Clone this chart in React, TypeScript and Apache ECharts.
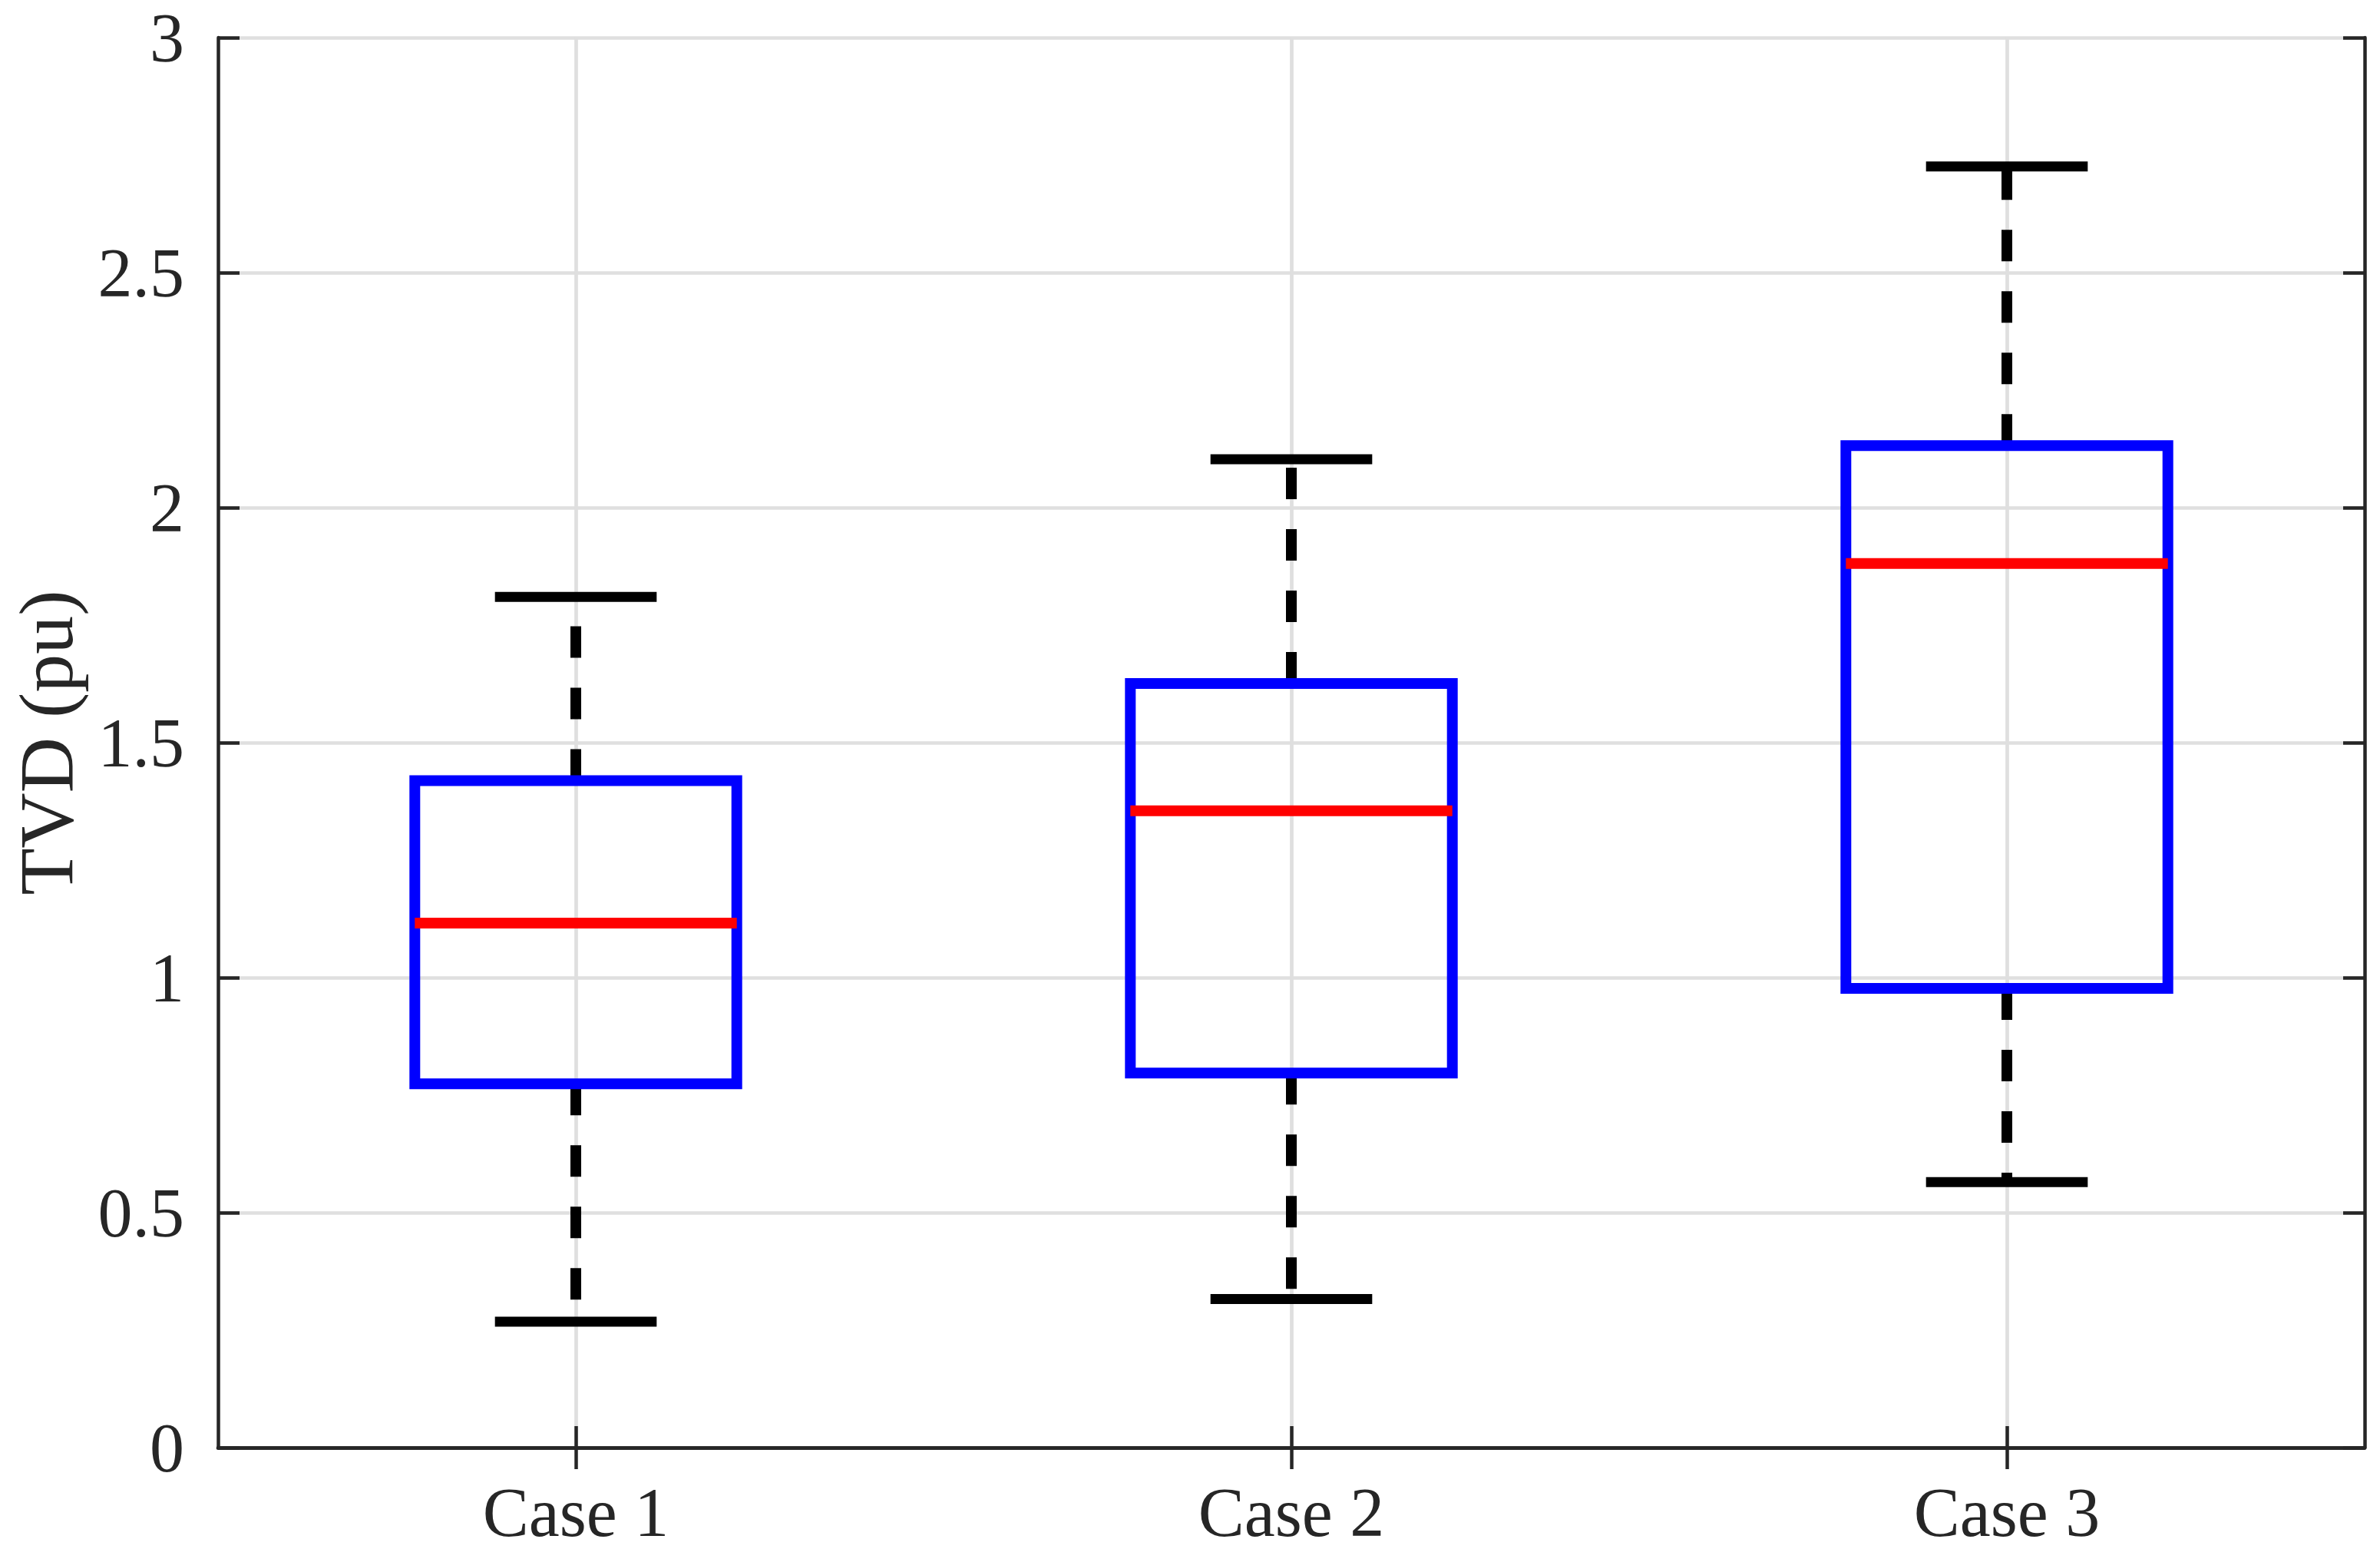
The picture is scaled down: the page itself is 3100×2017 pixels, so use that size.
import React, { useEffect, useRef } from 'react';
import * as echarts from 'echarts';

const categories = ['Case 1', 'Case 2', 'Case 3'];
const whiskerLow = [0.268, 0.316, 0.565];
const quartile1 = [0.774, 0.797, 0.977];
const medians = [1.116, 1.355, 1.881];
const quartile3 = [1.419, 1.626, 2.132];
const whiskerHigh = [1.81, 2.103, 2.726];
const yAxisTitle = 'TVD (pu)';

const FONT = '"Liberation Serif", "Times New Roman", serif';
const AX = '#262626';
const GRID = '#dfdfdf';

export default function App() {
  const ref = useRef<HTMLDivElement>(null);
  useEffect(() => {
    document.body.style.margin = '0';
    if (!ref.current) return;
    const chart = echarts.init(ref.current, null, { renderer: 'svg' });
    const data = categories.map((_, i) => [
      i,
      whiskerLow[i],
      quartile1[i],
      medians[i],
      quartile3[i],
      whiskerHigh[i],
    ]);
    const axisLine = { show: true, lineStyle: { color: AX, width: 4.5 } };
    const tick = { show: true, inside: true, length: 28, lineStyle: { color: AX, width: 4.5 } };
    chart.setOption({
      animation: false,
      backgroundColor: '#ffffff',
      grid: { left: 284, right: 20, top: 49, bottom: 132, containLabel: false },
      xAxis: [
        {
          type: 'category',
          data: categories,
          position: 'bottom',
          boundaryGap: true,
          z: 5,
          axisLine,
          axisTick: { ...tick, alignWithLabel: true },
          axisLabel: { color: AX, fontFamily: FONT, fontSize: 90, lineHeight: 80, margin: 44 },
          splitLine: { show: false },
        },
        {
          type: 'category',
          data: categories,
          position: 'top',
          boundaryGap: true,
          z: 5,
          axisLine,
          axisTick: { ...tick, alignWithLabel: true },
          axisLabel: { show: false },
          splitLine: { show: false },
        },
        {
          type: 'category',
          data: categories,
          position: 'bottom',
          boundaryGap: true,
          z: 0,
          axisLine: { show: false },
          axisTick: { show: false, alignWithLabel: true },
          axisLabel: { show: false },
          splitLine: { show: true, alignWithLabel: true, lineStyle: { color: GRID, width: 4.7 } },
        },
      ],
      yAxis: [
        {
          type: 'value',
          min: 0,
          max: 3,
          interval: 0.5,
          position: 'left',
          z: 5,
          name: yAxisTitle,
          nameLocation: 'middle',
          nameRotate: 90,
          nameGap: 174,
          nameTextStyle: { color: AX, fontFamily: FONT, fontSize: 100 },
          axisLine,
          axisTick: tick,
          axisLabel: { color: AX, fontFamily: FONT, fontSize: 90, lineHeight: 76, margin: 44 },
          splitLine: { show: false },
        },
        {
          type: 'value',
          min: 0,
          max: 3,
          interval: 0.5,
          position: 'right',
          z: 5,
          axisLine,
          axisTick: tick,
          axisLabel: { show: false },
          splitLine: { show: false },
        },
        {
          type: 'value',
          min: 0,
          max: 3,
          interval: 0.5,
          position: 'left',
          z: 0,
          axisLine: { show: false },
          axisTick: { show: false },
          axisLabel: { show: false },
          splitLine: { show: true, lineStyle: { color: GRID, width: 4.7 } },
        },
      ],
      series: [
        {
          type: 'custom',
          xAxisIndex: 0,
          yAxisIndex: 0,
          z: 3,
          data,
          encode: { x: 0, y: [1, 2, 3, 4, 5] },
          renderItem: (params: any, api: any) => {
            const idx = api.value(0);
            const band = api.size([1, 0])[0];
            const x = api.coord([idx, api.value(1)])[0];
            const yMin = api.coord([idx, api.value(1)])[1];
            const yQ1 = api.coord([idx, api.value(2)])[1];
            const yMed = api.coord([idx, api.value(3)])[1];
            const yQ3 = api.coord([idx, api.value(4)])[1];
            const yMax = api.coord([idx, api.value(5)])[1];
            const bw = band * 0.225;
            const cw = band * 0.113;
            const dash = { stroke: '#000000', lineWidth: 14, lineDash: [41, 39], fill: 'none' };
            const solid = { stroke: '#000000', lineWidth: 13, fill: 'none' };
            return {
              type: 'group',
              children: [
                { type: 'line', shape: { x1: x, y1: yQ3, x2: x, y2: yMax }, style: dash },
                { type: 'line', shape: { x1: x, y1: yQ1, x2: x, y2: yMin }, style: dash },
                { type: 'line', shape: { x1: x - cw, y1: yMax, x2: x + cw, y2: yMax }, style: solid },
                { type: 'line', shape: { x1: x - cw, y1: yMin, x2: x + cw, y2: yMin }, style: solid },
                {
                  type: 'rect',
                  shape: { x: x - bw, y: yQ3, width: 2 * bw, height: yQ1 - yQ3 },
                  style: { stroke: '#0000ff', lineWidth: 14, fill: 'none', lineJoin: 'miter' },
                },
                {
                  type: 'line',
                  shape: { x1: x - bw, y1: yMed, x2: x + bw, y2: yMed },
                  style: { stroke: '#ff0000', lineWidth: 14, fill: 'none' },
                },
              ],
            };
          },
        },
      ],
    });
    return () => chart.dispose();
  }, []);
  return <div ref={ref} style={{ width: 3100, height: 2017 }} />;
}
